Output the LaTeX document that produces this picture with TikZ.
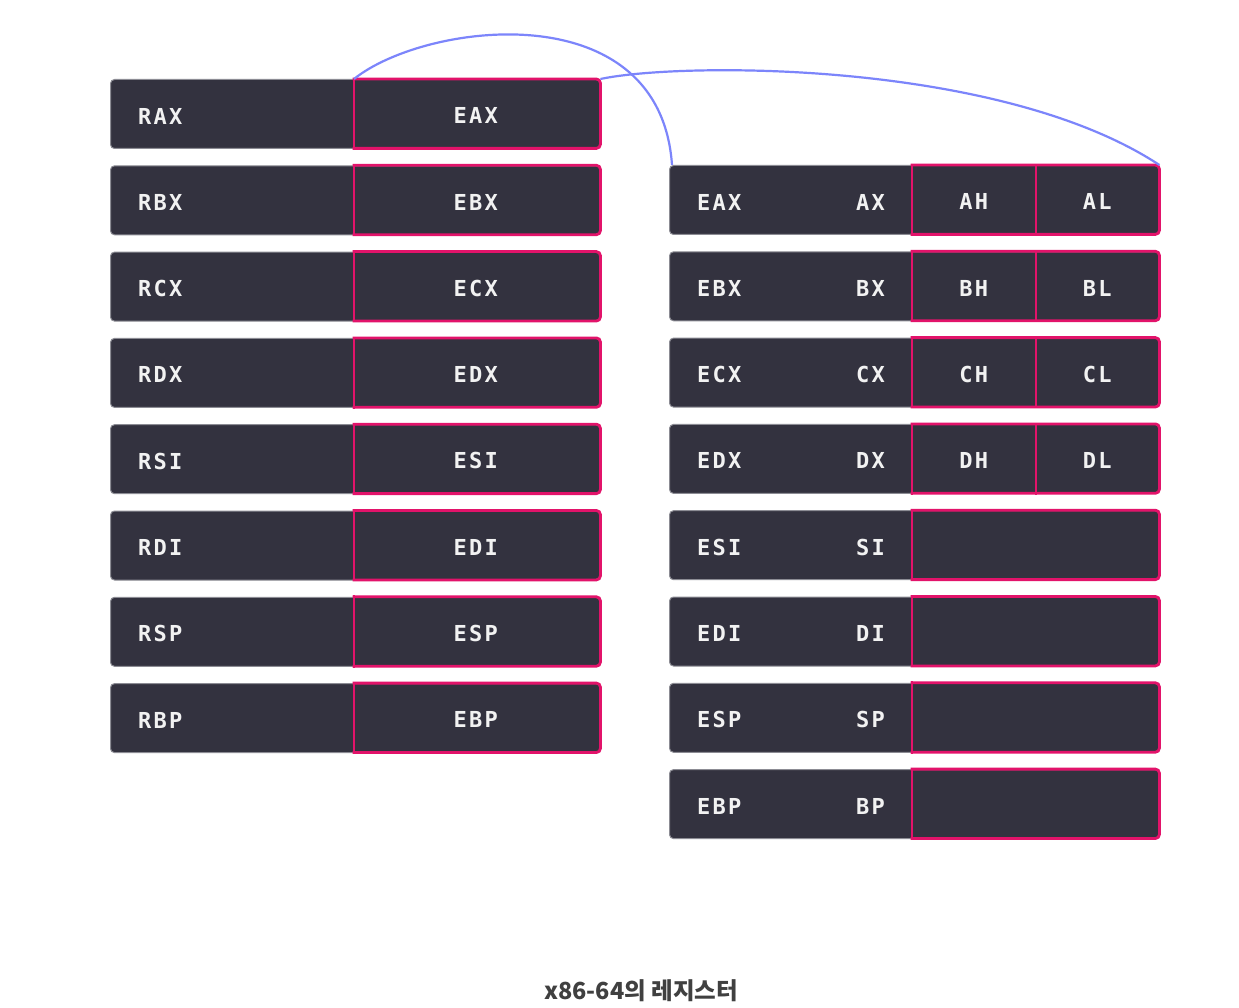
\documentclass[tikz,border=0pt]{standalone}
\usepackage{fontspec}
\newfontfamily\regfont{DejaVu Sans Mono}[LetterSpace=10]
\newfontfamily\capfont{Noto Sans CJK KR}
\definecolor{boxfill}{HTML}{33323F}
\definecolor{boxline}{HTML}{8C8C94}
\definecolor{redc}{HTML}{E2136A}
\definecolor{bluec}{HTML}{7C85FB}
\definecolor{labelc}{HTML}{F2F2F2}
\definecolor{capc}{HTML}{404040}
\tikzset{
  regbox/.style={draw=boxline, fill=boxfill, rounded corners=4pt, line width=1pt,
    minimum height=69pt, inner sep=0pt, anchor=north west, rectangle},
  part/.style={minimum height=69pt, inner sep=0pt, anchor=north west, rectangle},
  redline/.style={draw=redc, line width=2.8pt, line cap=rect},
  lbl/.style={text=labelc, font=\regfont\bfseries\fontsize{22}{26}\selectfont, inner sep=0pt},
  link/.style={draw=bluec, line width=2.2pt}
}
\begin{document}
\begin{tikzpicture}[x=1pt,y=-1pt]
\fill[white] (0,0) rectangle (1239,1008);
\useasboundingbox (0,0) rectangle (1239,1008);
% left column
\foreach \i/\r/\e in {0/RAX/EAX,1/RBX/EBX,2/RCX/ECX,3/RDX/EDX,4/RSI/ESI,5/RDI/EDI,6/RSP/ESP,7/RBP/EBP} {
  \pgfmathsetmacro\yy{79+86.3*\i}
  \node[regbox, minimum width=490pt] (L\i) at (110,\yy) {};
  \node[part, minimum width=246pt] (LE\i) at (354,\yy) {};
  \draw[redline, rounded corners=4pt] (LE\i.north west) -- (LE\i.north east) -- (LE\i.south east) -- (LE\i.south west);
  \draw[redline] (LE\i.south west) -- (LE\i.north west);
  \node[lbl, anchor=west] (Ln\i) at ([xshift=28pt,yshift=-2pt]L\i.west) {\r};
  \node[lbl] (En\i) at ([xshift=-1.5pt,yshift=-2pt]LE\i.center) {\e};
}
% right column
\foreach \i/\e/\x in {0/EAX/AX,1/EBX/BX,2/ECX/CX,3/EDX/DX,4/ESI/SI,5/EDI/DI,6/ESP/SP,7/EBP/BP} {
  \pgfmathsetmacro\yy{165+86.3*\i}
  \node[regbox, minimum width=490pt] (R\i) at (669,\yy) {};
  \node[part, minimum width=247pt] (RP\i) at (912,\yy) {};
  \draw[redline, rounded corners=4pt] (RP\i.north west) -- (RP\i.north east) -- (RP\i.south east) -- (RP\i.south west);
  \draw[redline] (RP\i.south west) -- (RP\i.north west);
  \node[lbl, anchor=west] (Re\i) at ([xshift=28pt,yshift=-2pt]R\i.west) {\e};
  \node[lbl, anchor=east] (Rx\i) at ([xshift=216pt,yshift=-2pt]R\i.west) {\x};
}
\foreach \i/\h/\l in {0/AH/AL,1/BH/BL,2/CH/CL,3/DH/DL} {
  \pgfmathsetmacro\yy{165+86.3*\i}
  \node[part, minimum width=124pt] (RH\i) at (912,\yy) {};
  \node[part, minimum width=123pt] (RL\i) at (1036,\yy) {};
  \draw[redline] (RL\i.north west) -- (RL\i.south west);
  \node[lbl] (Rh\i) at ([xshift=-0.5pt,yshift=-2pt]RH\i.center) {\h};
  \node[lbl] (Rl\i) at ([xshift=-0.5pt,yshift=-2pt]RL\i.center) {\l};
}
% connectors
\draw[link] (LE0.north west) .. controls (425,22) and (660,-8) .. ([xshift=3pt]R0.north west);
\draw[link] (LE0.north east) .. controls (680,62) and (1000,60) .. (RP0.north east);
% caption
\node[text=capc, font=\capfont\bfseries\fontsize{23.5}{27}\selectfont, inner sep=0pt] (cap) at (641,991) {x86-64의 레지스터};
\end{tikzpicture}
\end{document}
